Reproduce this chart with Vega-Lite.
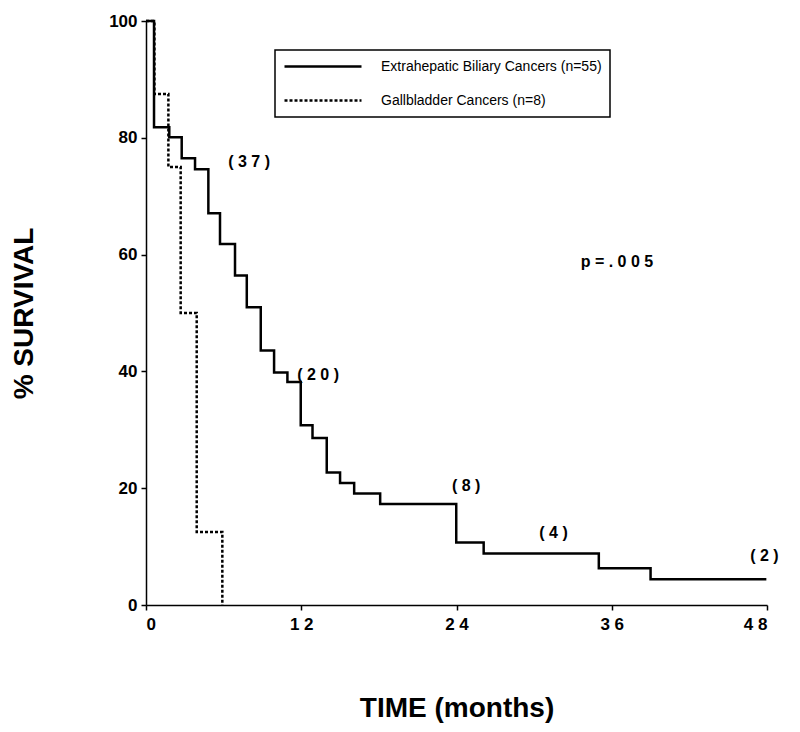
{
  "$schema": "https://vega.github.io/schema/vega-lite/v6.json",
  "autosize": "none",
  "width": 621,
  "height": 584,
  "padding": {"left": 146, "top": 21, "right": 33, "bottom": 127},
  "background": "white",
  "config": {
    "view": {"stroke": null},
    "font": "Liberation Sans",
    "axis": {"grid": false, "domainColor": "black", "tickColor": "black", "domainWidth": 1.5, "tickWidth": 1.5, "tickSize": 5, "labelColor": "black", "titleColor": "black", "labelFont": "Liberation Sans", "titleFont": "Liberation Sans", "labelFontSize": 17, "labelFontWeight": "bold", "titleFontSize": 28, "titleFontWeight": "bold"},
    "legend": {"strokeColor": "black", "strokeWidth": 1.5, "padding": 8, "fillColor": "white"}
  },
  "datasets": {
    "curves": [
      {"group": "Extrahepatic Biliary Cancers (n=55)", "t": 0, "s": 100},
      {"group": "Extrahepatic Biliary Cancers (n=55)", "t": 0.62, "s": 81.8},
      {"group": "Extrahepatic Biliary Cancers (n=55)", "t": 1.8, "s": 80.1},
      {"group": "Extrahepatic Biliary Cancers (n=55)", "t": 2.76, "s": 76.5},
      {"group": "Extrahepatic Biliary Cancers (n=55)", "t": 3.79, "s": 74.6},
      {"group": "Extrahepatic Biliary Cancers (n=55)", "t": 4.82, "s": 67.1},
      {"group": "Extrahepatic Biliary Cancers (n=55)", "t": 5.72, "s": 61.8},
      {"group": "Extrahepatic Biliary Cancers (n=55)", "t": 6.88, "s": 56.4},
      {"group": "Extrahepatic Biliary Cancers (n=55)", "t": 7.79, "s": 51.0},
      {"group": "Extrahepatic Biliary Cancers (n=55)", "t": 8.87, "s": 43.6},
      {"group": "Extrahepatic Biliary Cancers (n=55)", "t": 9.9, "s": 39.8},
      {"group": "Extrahepatic Biliary Cancers (n=55)", "t": 10.93, "s": 38.2},
      {"group": "Extrahepatic Biliary Cancers (n=55)", "t": 11.96, "s": 30.8},
      {"group": "Extrahepatic Biliary Cancers (n=55)", "t": 12.87, "s": 28.6},
      {"group": "Extrahepatic Biliary Cancers (n=55)", "t": 13.97, "s": 22.7},
      {"group": "Extrahepatic Biliary Cancers (n=55)", "t": 15.0, "s": 20.9},
      {"group": "Extrahepatic Biliary Cancers (n=55)", "t": 16.09, "s": 19.1},
      {"group": "Extrahepatic Biliary Cancers (n=55)", "t": 18.1, "s": 17.3},
      {"group": "Extrahepatic Biliary Cancers (n=55)", "t": 23.98, "s": 10.7},
      {"group": "Extrahepatic Biliary Cancers (n=55)", "t": 26.1, "s": 8.8},
      {"group": "Extrahepatic Biliary Cancers (n=55)", "t": 35.0, "s": 6.3},
      {"group": "Extrahepatic Biliary Cancers (n=55)", "t": 39.0, "s": 4.4},
      {"group": "Extrahepatic Biliary Cancers (n=55)", "t": 47.95, "s": 4.4},
      {"group": "Gallbladder Cancers (n=8)", "t": 0, "s": 100},
      {"group": "Gallbladder Cancers (n=8)", "t": 0.65, "s": 87.5},
      {"group": "Gallbladder Cancers (n=8)", "t": 1.73, "s": 75},
      {"group": "Gallbladder Cancers (n=8)", "t": 2.68, "s": 50},
      {"group": "Gallbladder Cancers (n=8)", "t": 3.92, "s": 12.5},
      {"group": "Gallbladder Cancers (n=8)", "t": 5.9, "s": 0}
    ],
    "notes": [
      {"t": 7.97, "s": 75.9, "label": "( 3 7 )"},
      {"t": 13.3, "s": 39.4, "label": "( 2 0 )"},
      {"t": 24.75, "s": 20.3, "label": "( 8 )"},
      {"t": 31.5, "s": 12.3, "label": "( 4 )"},
      {"t": 47.8, "s": 8.4, "label": "( 2 )"},
      {"t": 36.4, "s": 58.7, "label": "p = . 0 0 5"}
    ]
  },
  "layer": [
    {
      "data": {"name": "curves"},
      "mark": {"type": "line", "interpolate": "step-after", "color": "black", "strokeWidth": 2.5},
      "encoding": {
        "x": {"field": "t", "type": "quantitative", "scale": {"domain": [0, 48], "nice": false}, "axis": {"values": [0, 12, 24, 36, 48], "labelExpr": "datum.value == 0 ? '0' : join(split(datum.label, ''), ' ')", "title": "TIME  (months)", "titlePadding": 62, "labelPadding": 6}},
        "y": {"field": "s", "type": "quantitative", "scale": {"domain": [0, 100], "nice": false}, "axis": {"values": [0, 20, 40, 60, 80, 100], "title": "% SURVIVAL", "titlePadding": 70, "labelPadding": 4}},
        "strokeDash": {"field": "group", "type": "nominal", "scale": {"domain": ["Extrahepatic Biliary Cancers (n=55)", "Gallbladder Cancers (n=8)"], "range": [[1, 0], [3, 2]]}, "legend": {"title": null, "orient": "none", "legendX": 129, "legendY": 29, "symbolType": "stroke", "symbolSize": 5929, "symbolStrokeWidth": 2.5, "symbolStrokeColor": "black", "labelFontSize": 14, "labelFont": "Liberation Sans", "labelColor": "black", "labelOffset": 18, "clipHeight": 17, "rowPadding": 17, "labelLimit": 400}}
      }
    },
    {
      "data": {"name": "notes"},
      "mark": {"type": "text", "fontSize": 16, "fontWeight": "bold", "color": "black", "font": "Liberation Sans"},
      "encoding": {
        "x": {"field": "t", "type": "quantitative"},
        "y": {"field": "s", "type": "quantitative"},
        "text": {"field": "label", "type": "nominal"}
      }
    }
  ]
}
